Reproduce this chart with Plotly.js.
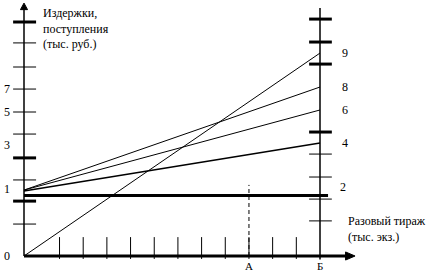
<!DOCTYPE html>
<html>
<head>
<meta charset="utf-8">
<script src="https://cdn.plot.ly/plotly-3.0.1.min.js"></script>
<style>html,body{margin:0;padding:0;background:#fff;}#chart{width:427px;height:273px;}</style>
</head>
<body>
<div id="chart"></div>
<script>
// ---- data (schematic units) ----
const xTicks = [1.5, 2.5, 3.5, 4.5, 5.5, 6.5, 7.5, 8.5, 9.5, 10.5, 11.5];
const xA = 9.5;            // тираж А
const xB = 12.5;           // тираж Б (right axis)
const leftTicksThin = [1.42, 3.38, 5.42, 6.4, 7.42, 8.4, 9.47];
const leftTicksThick = [2.44, 4.36, 10.4];
const rightTicksThin = [1.56, 2.53, 3.51, 4.53];
const rightTicksThick = [5.51, 8.53, 9.51, 10.53];
const leftLabels = ['0', '1', '3', '5', '7'];
const leftLabelY = [0, 2.98, 4.93, 6.4, 7.42];
const lineNames = ['9', '8', '6', '4'];
const lineStartY = [0, 2.93, 2.93, 2.89];
const lineEndY = [9.02, 7.51, 6.49, 5.02];
const lineWidths = [1, 1, 1, 1.6];
const fixedName = '2';
const fixedY = 2.69;
const fixedLabelY = 3.07;
const yTitle = ['Издержки,', 'поступления', '(тыс. руб.)'];
const xTitle = ['Разовый тираж', '(тыс. экз.)'];
const bottomLabels = ['А', 'Б'];

// ---- helpers ----
function segs(vals, a, b, horizontal) {
  const xs = [], ys = [];
  vals.forEach(v => {
    if (horizontal) { xs.push(a, b, null); ys.push(v, v, null); }
    else { xs.push(v, v, null); ys.push(a, b, null); }
  });
  return {x: xs, y: ys};
}
const K = '#000';
const traces = [];
function addLine(x, y, w, dash) {
  traces.push({type: 'scatter', mode: 'lines', x: x, y: y, hoverinfo: 'skip',
    line: {color: K, width: w, dash: dash || 'solid'}, showlegend: false});
}
// axes
addLine([0, 0], [0, 10.98], 1.5);
addLine([0, 13.62], [0, 0], 3);
addLine([xB, xB], [-0.15, 11.02], 1.5);
// arrows
traces.push({type: 'scatter', mode: 'lines', x: [-0.15, 0.15, 0, -0.15], y: [10.95, 10.95, 11.24, 10.95],
  fill: 'toself', fillcolor: K, line: {color: K, width: 1}, hoverinfo: 'skip', showlegend: false});
traces.push({type: 'scatter', mode: 'lines', x: [13.58, 13.58, 13.98, 13.58], y: [0.18, -0.18, 0, 0.18],
  fill: 'toself', fillcolor: K, line: {color: K, width: 1}, hoverinfo: 'skip', showlegend: false});
// ticks
let s;
s = segs(leftTicksThin, -0.46, 0.51, true); addLine(s.x, s.y, 1);
s = segs(leftTicksThick, -0.46, 0.51, true); addLine(s.x, s.y, 3);
s = segs(rightTicksThin, 12.04, 13.0, true); addLine(s.x, s.y, 1);
s = segs(rightTicksThick, 12.04, 13.0, true); addLine(s.x, s.y, 3);
s = segs(xTicks, -0.13, 0.84, false); addLine(s.x, s.y, 1);
// dashed A line
addLine([xA, xA], [0, 3.16], 1, '4px,3px');
// fixed cost line
addLine([0, 12.84], [fixedY, fixedY], 3);
// cost / revenue lines
lineNames.forEach((n, i) => addLine([0, xB], [lineStartY[i], lineEndY[i]], lineWidths[i]));

const F = {family: 'Liberation Serif, Times New Roman, serif', size: 12, color: K};
const ann = [];
function txt(x, y, t, xa, ya, size) {
  ann.push({x: x, y: y, xref: 'x', yref: 'y', text: t, showarrow: false, borderpad: 0,
    xanchor: xa || 'center', yanchor: ya || 'middle', align: 'left',
    font: Object.assign({}, F, size ? {size: size} : {})});
}
leftLabels.forEach((t, i) => txt(-0.7, leftLabelY[i], t));
lineNames.forEach((t, i) => txt(13.56, lineEndY[i], t));
txt(13.47, fixedLabelY, fixedName);
txt(xA, -0.74, bottomLabels[0], 'center', 'bottom', 11);
txt(xB, -0.74, bottomLabels[1], 'center', 'bottom', 11);
txt(0.78, 10.13, yTitle.join('<br>'), 'left', 'middle');
txt(13.62, 1.22, xTitle.join('<br>'), 'left', 'middle');

const layout = {
  width: 427, height: 273,
  margin: {l: 0, r: 0, t: 0, b: 0, pad: 0},
  paper_bgcolor: '#fff', plot_bgcolor: '#fff',
  showlegend: false,
  xaxis: {visible: false, range: [-24 / 23.68, 403 / 23.68], fixedrange: true},
  yaxis: {visible: false, range: [-17 / 22.5, 256 / 22.5], fixedrange: true},
  annotations: ann
};
Plotly.newPlot('chart', traces, layout, {displayModeBar: false, staticPlot: true});
</script>
</body>
</html>
